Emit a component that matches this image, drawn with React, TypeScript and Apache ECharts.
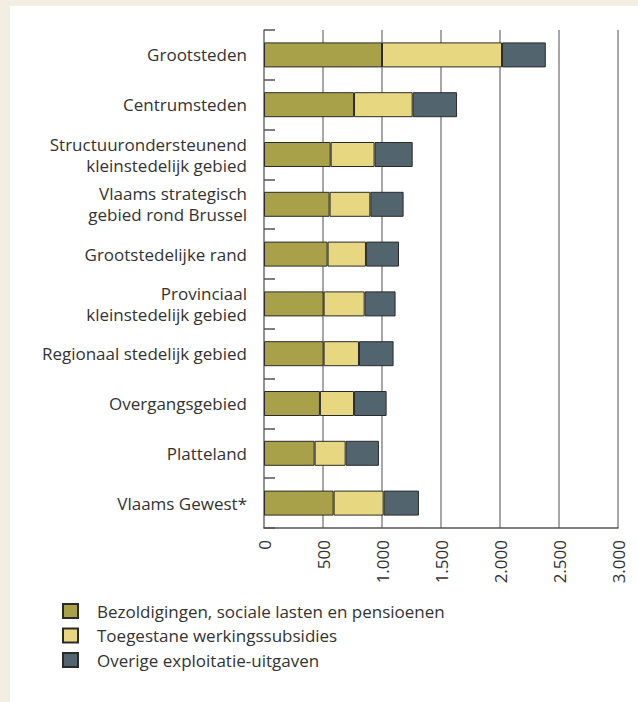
import React, { useEffect, useRef } from "react";
import * as echarts from "echarts";

const categories = [
  "Grootsteden",
  "Centrumsteden",
  "Structuurondersteunend\nkleinstedelijk gebied",
  "Vlaams strategisch\ngebied rond Brussel",
  "Grootstedelijke rand",
  "Provinciaal\nkleinstedelijk gebied",
  "Regionaal stedelijk gebied",
  "Overgangsgebied",
  "Platteland",
  "Vlaams Gewest*",
];

const seriesNames = [
  "Bezoldigingen, sociale lasten en pensioenen",
  "Toegestane werkingssubsidies",
  "Overige exploitatie-uitgaven",
];

const bezoldigingen = [1000, 763, 565, 556, 539, 505, 505, 474, 429, 590];
const werkingssubsidies = [1017, 497, 372, 345, 325, 348, 300, 289, 263, 424];
const overige = [371, 376, 323, 282, 280, 262, 293, 276, 282, 299];

const colors = ["#a9a149", "#e8d781", "#52646e"];

const fmt = (v: number) => String(v).replace(/\B(?=(\d{3})+(?!\d))/g, ".");

export default function App() {
  const ref = useRef<HTMLDivElement>(null);

  useEffect(() => {
    if (!ref.current) return;
    const chart = echarts.init(ref.current, undefined, { renderer: "svg" });
    const font = "'Open Sans', sans-serif";
    const data = [bezoldigingen, werkingssubsidies, overige];
    chart.setOption({
      animation: false,
      backgroundColor: "#ffffff",
      textStyle: { fontFamily: font },
      graphic: [
        { type: "rect", left: 0, top: 0, shape: { width: 638, height: 6 }, style: { fill: "#f2eee1" }, silent: true },
        { type: "rect", left: 0, top: 0, shape: { width: 10, height: 702 }, style: { fill: "#f2eee1" }, silent: true },
      ],
      grid: { left: 264, right: 20, top: 30, bottom: 174, containLabel: false },
      legend: {
        orient: "vertical",
        left: 62,
        top: 602,
        padding: 0,
        itemWidth: 15,
        itemHeight: 14,
        itemGap: 6.5,
        icon: "rect",
        data: seriesNames,
        textStyle: {
          fontFamily: font,
          fontSize: 17,
          color: "#333",
          lineHeight: 18,
          padding: [0, 0, 0, 14],
        },
      },
      xAxis: {
        type: "value",
        min: 0,
        max: 3000,
        interval: 500,
        axisLine: { show: true, lineStyle: { color: "#555", width: 1.5 } },
        axisTick: { show: false },
        splitLine: { show: true, lineStyle: { color: "#8a8a8a", width: 1.5 } },
        axisLabel: {
          rotate: 90,
          margin: 12,
          fontSize: 17,
          color: "#333",
          fontFamily: font,
          formatter: (v: number) => fmt(v),
        },
      },
      yAxis: {
        type: "category",
        inverse: true,
        data: categories,
        axisLine: { show: true, lineStyle: { color: "#8a8a8a", width: 1.5 } },
        axisTick: { show: true, inside: true, length: 11, lineStyle: { color: "#555", width: 1.5 } },
        axisLabel: {
          margin: 17,
          fontSize: 17,
          lineHeight: 21,
          color: "#333",
          fontFamily: font,
          align: "right",
        },
      },
      series: seriesNames.map((name, i) => ({
        name,
        type: "bar",
        stack: "total",
        barWidth: 25,
        data: data[i],
        itemStyle: { color: colors[i], borderColor: "#2a2a2a", borderWidth: 1 },
      })),
    });
    return () => chart.dispose();
  }, []);

  return (
    <div
      ref={ref}
      style={{ position: "fixed", left: 0, top: 0, width: 638, height: 702 }}
    />
  );
}
